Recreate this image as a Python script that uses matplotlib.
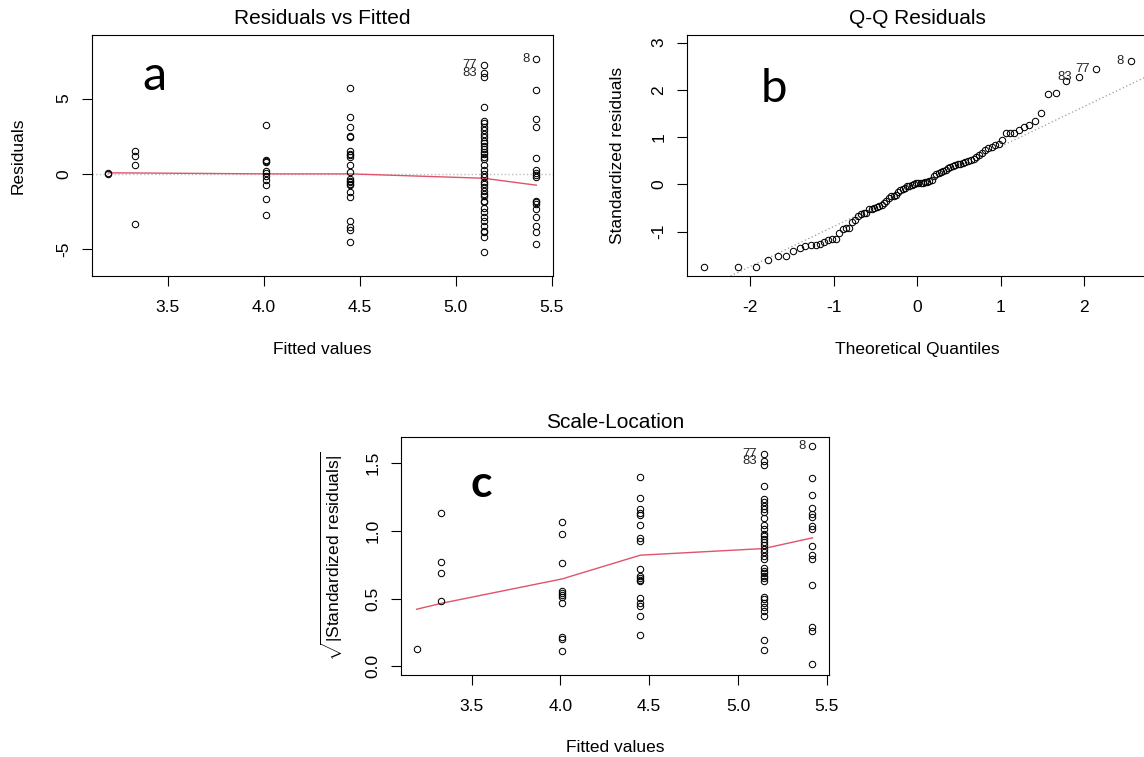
import numpy as np
import matplotlib
matplotlib.use("Agg")
import matplotlib.pyplot as plt
from statistics import NormalDist

plt.rcParams["font.family"] = ["Liberation Sans", "DejaVu Sans"]
plt.rcParams["axes.unicode_minus"] = False
plt.rcParams["mathtext.fontset"] = "custom"
plt.rcParams["mathtext.rm"] = "Liberation Sans"

# fitted value of each group (the model only produces six distinct fits)
fitted_levels = [3.19, 3.33, 4.01, 4.45, 5.145, 5.42]

# raw residuals per fitted group
resid_groups = [
    [0.03, -0.03],
    [1.55, 1.21, 0.62, -3.31],
    [3.24, 0.90, 0.85, 0.78, 0.16, 0.04, -0.11, -0.40, -0.74, -1.70, -2.75],
    [5.68, 3.80, 3.10, 2.53, 2.44, 1.50, 1.35, 1.25, 1.15, 0.61, 0.13, -0.35,
     -0.47, -0.55, -0.64, -0.75, -1.20, -1.55, -3.14, -3.52, -3.70, -4.55],
    [7.22, 6.67, 6.45, 4.44, 3.53, 3.36, 3.13, 2.91, 2.63, 2.43, 2.21, 2.08,
     1.85, 1.63, 1.48, 1.32, 1.15, 0.97, 0.60, 0.26, 0.00, -0.22, -0.51, -0.66,
     -0.84, -1.17, -1.35, -1.50, -1.77, -1.90, -2.27, -2.56, -2.83, -3.16,
     -3.49, -3.77, -3.89, -4.19, -5.19],
    [7.62, 5.54, 3.62, 3.13, 1.04, 0.26, 0.09, -0.09, -0.24, -1.77, -1.90,
     -1.99, -2.34, -2.89, -3.44, -3.84, -4.64],
]
resid_smooth = [0.07, 0.06, 0.0, 0.0, -0.29, -0.75]

# sorted standardized residuals for the normal Q-Q plot
std_resid_sorted = [
    -1.74, -1.74, -1.74, -1.60, -1.52, -1.52, -1.42, -1.34, -1.31, -1.29,
    -1.29, -1.27, -1.22, -1.18, -1.16, -1.15, -1.02, -0.95, -0.93, -0.93,
    -0.79, -0.75, -0.67, -0.62, -0.61, -0.60, -0.53, -0.52, -0.50, -0.48,
    -0.45, -0.43, -0.39, -0.35, -0.29, -0.25, -0.24, -0.22, -0.17, -0.11,
    -0.09, -0.07, -0.04, -0.03, -0.01, 0.01, 0.02, 0.02, 0.03, 0.03,
    0.04, 0.05, 0.07, 0.10, 0.17, 0.21, 0.24, 0.27, 0.29, 0.31,
    0.34, 0.37, 0.39, 0.41, 0.42, 0.44, 0.45, 0.47, 0.49, 0.51,
    0.53, 0.57, 0.62, 0.67, 0.72, 0.77, 0.80, 0.84, 0.86, 0.93,
    1.08, 1.08, 1.09, 1.15, 1.21, 1.26, 1.35, 1.50, 1.92, 1.94,
    2.18, 2.27, 2.45, 2.62,
]
qq_labels = {94: "8", 93: "77", 92: "83"}

# sqrt(|standardized residuals|) per fitted group
scale_groups = [
    [0.126],
    [1.135, 0.773, 0.687, 0.483],
    [1.067, 0.978, 0.766, 0.559, 0.542, 0.527, 0.515, 0.466, 0.219, 0.200, 0.111],
    [1.394, 1.244, 1.160, 1.135, 1.116, 1.042, 0.948, 0.924, 0.719, 0.667,
     0.653, 0.638, 0.628, 0.505, 0.470, 0.446, 0.372, 0.234],
    [1.569, 1.515, 1.485, 1.330, 1.232, 1.209, 1.185, 1.160, 1.138, 1.091,
     1.042, 1.012, 0.980, 0.963, 0.938, 0.914, 0.894, 0.869, 0.840, 0.815,
     0.791, 0.722, 0.702, 0.685, 0.667, 0.648, 0.633, 0.512, 0.495, 0.470,
     0.438, 0.406, 0.372, 0.192, 0.118],
    [1.623, 1.387, 1.266, 1.167, 1.121, 1.103, 1.037, 1.010, 0.887, 0.825,
     0.793, 0.603, 0.291, 0.259, 0.015],
]
scale_smooth = [0.421, 0.465, 0.645, 0.820, 0.869, 0.948]

# labelled observations: (label, group index, value)
id_resid = [("8", 5, 7.62), ("77", 4, 7.22), ("83", 4, 6.67)]
id_scale = [("8", 5, 1.623), ("77", 4, 1.569), ("83", 4, 1.515)]

fit_ticks = [3.5, 4.0, 4.5, 5.0, 5.5]
fit_ticklabels = ["3.5", "4.0", "4.5", "5.0", "5.5"]

W, H = 1144, 757
fig = plt.figure(figsize=(W / 100, H / 100), dpi=100)


def axes_px(left, top, right, bottom):
    return fig.add_axes([left / W, 1 - bottom / H, (right - left) / W, (bottom - top) / H])


def style(ax, title, xlabel, ylabel, title_y, xlab_y, ylab_x):
    for s in ax.spines.values():
        s.set_linewidth(0.8)
        s.set_color("black")
    ax.tick_params(direction="out", length=7.2, width=0.8, labelsize=12.5)
    ax.tick_params(axis="x", pad=10.0)
    ax.tick_params(axis="y", pad=7.5, labelrotation=90)
    for t in ax.get_yticklabels():
        t.set_va("center")
    ax.set_title(title, fontsize=15, y=title_y, va="center", pad=0)
    ax.set_xlabel(xlabel, fontsize=12.5)
    ax.set_ylabel(ylabel, fontsize=12.5)
    ax.xaxis.label.set_va("center")
    ax.yaxis.label.set_va("center")
    ax.yaxis.label.set_ha("center")
    ax.xaxis.set_label_coords(0.5, xlab_y)
    ax.yaxis.set_label_coords(ylab_x, 0.5)


def points(ax, x, y):
    ax.plot(x, y, "o", mfc="none", mec="black", ms=4.6, mew=0.75, zorder=3)


def id_text(ax, x, y, label):
    ax.annotate(label, (x, y), xytext=(-4.7, 0), textcoords="offset points",
                ha="right", va="center", fontsize=9.4, color="#222222")


# a: residuals vs fitted
ax_a = axes_px(92, 35, 553, 276)
for lvl, res in zip(fitted_levels, resid_groups):
    points(ax_a, np.full(len(res), lvl), res)
ax_a.plot(fitted_levels, resid_smooth, color="#DF536B", lw=1, zorder=2)
ax_a.axhline(0, color="#BEBEBE", ls=":", lw=1, zorder=1)
for lab, g, v in id_resid:
    id_text(ax_a, fitted_levels[g], v, lab)
ax_a.set_xlim(3.105, 5.507)
ax_a.set_ylim(-6.78, 9.22)
ax_a.set_xticks(fit_ticks, fit_ticklabels)
ax_a.set_yticks([-5, 0, 5], ["-5", "0", "5"])
style(ax_a, "Residuals vs Fitted", "Fitted values", "Residuals", 1.0676, -0.307, -0.1605)

# b: normal Q-Q
ax_b = axes_px(686.7, 35, 1147.7, 276)
n = len(std_resid_sorted)
theo = np.array([NormalDist().inv_cdf((i - 0.5) / n) for i in range(1, n + 1)])
std_arr = np.array(std_resid_sorted)
q_y = np.percentile(std_arr, [25, 75])
q_x = np.array([NormalDist().inv_cdf(0.25), NormalDist().inv_cdf(0.75)])
slope = (q_y[1] - q_y[0]) / (q_x[1] - q_x[0])
icpt = q_y[0] - slope * q_x[0]
ax_b.axline((0, icpt), slope=slope, color="#9A9A9A", ls=(0, (1, 2)), lw=0.9, zorder=1)
points(ax_b, theo, std_arr)
for rank, lab in qq_labels.items():
    id_text(ax_b, theo[rank - 1], std_arr[rank - 1], lab)
ax_b.set_xlim(-2.76, 2.76)
ax_b.set_ylim(-1.94, 3.16)
ax_b.set_xticks([-2, -1, 0, 1, 2], ["-2", "-1", "0", "1", "2"])
ax_b.set_yticks([-1, 0, 1, 2, 3], ["-1", "0", "1", "2", "3"])
style(ax_b, "Q-Q Residuals", "Theoretical Quantiles", "Standardized residuals",
      1.0676, -0.307, -0.151)

# c: scale-location
ax_c = axes_px(401, 437.3, 829, 674.7)
for lvl, vals in zip(fitted_levels, scale_groups):
    points(ax_c, np.full(len(vals), lvl), vals)
ax_c.plot(fitted_levels, scale_smooth, color="#DF536B", lw=1, zorder=2)
for lab, g, v in id_scale:
    id_text(ax_c, fitted_levels[g], v, lab)
ax_c.set_xlim(3.102, 5.513)
ax_c.set_ylim(-0.062, 1.69)
ax_c.set_xticks(fit_ticks, fit_ticklabels)
ax_c.set_yticks([0, 0.5, 1.0, 1.5], ["0.0", "0.5", "1.0", "1.5"])
style(ax_c, "Scale-Location", "Fitted values",
      r"$\sqrt{|\mathrm{Standardized\ residuals}|}$", 1.0644, -0.3046, -0.161)

# panel letters
fig.text(154 / W, 1 - 90 / H, "a", fontsize=35, family="Lato", ha="center", va="baseline")
fig.text(773.5 / W, 1 - 102 / H, "b", fontsize=34, family="Lato", ha="center", va="baseline")
fig.text(481 / W, 1 - 497 / H, "c", fontsize=32, family="Lato", fontweight="bold",
         ha="center", va="baseline")

fig.savefig("out.png", dpi=100)
